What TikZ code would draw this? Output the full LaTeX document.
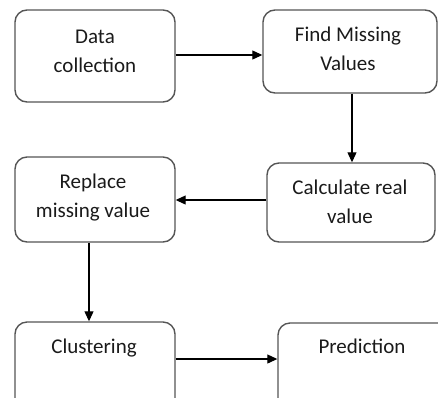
\documentclass[tikz,border=0pt]{standalone}
\usepackage{fontspec}
\setmainfont{Carlito}
\usetikzlibrary{arrows.meta}
\definecolor{boxline}{HTML}{555555}
\definecolor{txt}{HTML}{1A1A1A}
\tikzset{
  box/.style={draw=boxline, line width=1.4pt, rounded corners=12pt, rectangle, inner sep=0pt},
  lbl/.style={text=txt, font=\fontsize{21}{29}\selectfont, align=center, inner sep=0pt},
  conn/.style={draw=black, line width=1.1pt, -{Triangle[length=10pt,width=9pt]}}
}
\begin{document}
\begin{tikzpicture}[x=1pt,y=-1pt]
\useasboundingbox (0,0) rectangle (438,397);
\clip (0,0) rectangle (438,397);
% boxes
\node[box, minimum width=160pt, minimum height=92pt] (b1) at (95,56) {};
\node[box, minimum width=174pt, minimum height=83pt] (b2) at (350,51.5) {};
\node[box, minimum width=168pt, minimum height=79pt] (b3) at (351,202.5) {};
\node[box, minimum width=160pt, minimum height=85pt] (b4) at (95,199.5) {};
\node[box, minimum width=160pt, minimum height=100pt] (b5) at (95,372) {};
\node[box, minimum width=180pt, minimum height=100pt] (b6) at (368,373) {};
% labels (base anchor = last line baseline)
\node[lbl, anchor=base] (t1) at (95,72) {Data\\collection};
\node[lbl, anchor=base] (t2) at (348,70) {Find Missing\\Values};
\node[lbl, anchor=base] (t3) at (350,223) {Calculate real\\value};
\node[lbl, anchor=base] (t4) at (93,217) {Replace\\missing value};
\node[lbl, anchor=base] (t5) at (94,353) {Clustering};
\node[lbl, anchor=base] (t6) at (362,353) {Prediction};
% connectors
\coordinate (a1) at (b1.east |- 0,55);
\coordinate (a1e) at (b2.west |- 0,55);
\draw[conn] (a1) -- (a1e);
\coordinate (a2) at (352,0 |- b2.south);
\coordinate (a2e) at (352,0 |- b3.north);
\draw[conn] (a2) -- (a2e);
\coordinate (a3) at (b3.west |- 0,200);
\coordinate (a3e) at (b4.east |- 0,200);
\draw[conn] (a3) -- (a3e);
\coordinate (a4) at (89,0 |- b4.south);
\coordinate (a4e) at (89,0 |- b5.north);
\draw[conn] (a4) -- (a4e);
\coordinate (a5) at (b5.east |- 0,359);
\coordinate (a5e) at (b6.west |- 0,359);
\draw[conn] (a5) -- (a5e);
\end{tikzpicture}
\end{document}
